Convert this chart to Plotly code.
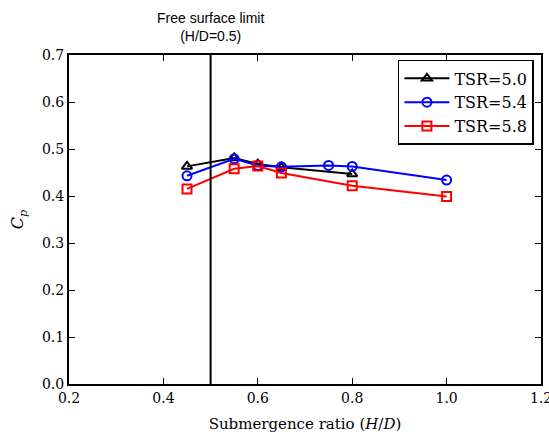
import plotly.graph_objects as go

# Submergence ratio (H/D) and power coefficient for each tip speed ratio
hd_tsr50 = [0.45, 0.55, 0.60, 0.65, 0.80]
cp_tsr50 = [0.463, 0.481, 0.468, 0.461, 0.447]

hd_tsr54 = [0.45, 0.55, 0.60, 0.65, 0.75, 0.80, 1.00]
cp_tsr54 = [0.443, 0.479, 0.465, 0.462, 0.465, 0.463, 0.434]

hd_tsr58 = [0.45, 0.55, 0.60, 0.65, 0.80, 1.00]
cp_tsr58 = [0.415, 0.458, 0.464, 0.449, 0.422, 0.399]

x_ticks = [0.2, 0.4, 0.6, 0.8, 1.0, 1.2]
y_ticks = [0.0, 0.1, 0.2, 0.3, 0.4, 0.5, 0.6, 0.7]

free_surface_hd = 0.5

serif = "DejaVu Serif"
sans = "Liberation Sans"

fig = go.Figure()

series = [
    ("TSR=5.0", hd_tsr50, cp_tsr50, "black", "triangle-up-open"),
    ("TSR=5.4", hd_tsr54, cp_tsr54, "blue", "circle-open"),
    ("TSR=5.8", hd_tsr58, cp_tsr58, "red", "square-open"),
]
for name, xs, ys, col, sym in series:
    fig.add_trace(go.Scatter(
        x=xs, y=ys, name=name, mode="lines+markers",
        line=dict(color=col, width=2),
        marker=dict(symbol=sym, size=9, color=col, line=dict(color=col, width=2)),
    ))

# Free surface limit line
fig.add_shape(type="line", xref="x", yref="y", x0=free_surface_hd, x1=free_surface_hd,
              y0=0, y1=0.7, line=dict(color="black", width=2))
fig.add_annotation(x=free_surface_hd, y=0.7, xref="x", yref="y",
                   text="Free surface limit<br>(H/D=0.5)", showarrow=False,
                   yanchor="bottom", yshift=9,
                   font=dict(family=sans, size=14, color="black"))

axis_common = dict(
    showline=True, linecolor="black", linewidth=2, mirror="allticks",
    ticks="inside", ticklen=6, tickwidth=1, tickcolor="black",
    showgrid=False, zeroline=False, ticklabeloverflow="allow", automargin=False,
    tickfont=dict(family=serif, size=14, color="black"),
)

fig.update_layout(
    width=549, height=439,
    margin=dict(l=69, r=8, t=55, b=55),
    paper_bgcolor="white", plot_bgcolor="white",
    xaxis=dict(range=[0.2, 1.2], tickvals=x_ticks,
               ticktext=[f"{v:.1f}" for v in x_ticks],
               title=dict(text="Submergence ratio (<i>H</i>/<i>D</i>)",
                          font=dict(family=serif, size=15, color="black"), standoff=14),
               **axis_common),
    yaxis=dict(range=[0, 0.7], tickvals=y_ticks,
               ticktext=[f"{v:.1f}" for v in y_ticks],
               title=dict(text="<i>C<sub>p</sub></i>",
                          font=dict(family=serif, size=16, color="black"), standoff=14),
               **axis_common),
    legend=dict(x=0.985, y=0.985, xanchor="right", yanchor="top",
                bgcolor="white", bordercolor="black", borderwidth=1.5,
                font=dict(family=serif, size=16, color="black"),
                itemwidth=45, tracegroupgap=0),
    showlegend=True,
)

fig.write_html("out.html")
